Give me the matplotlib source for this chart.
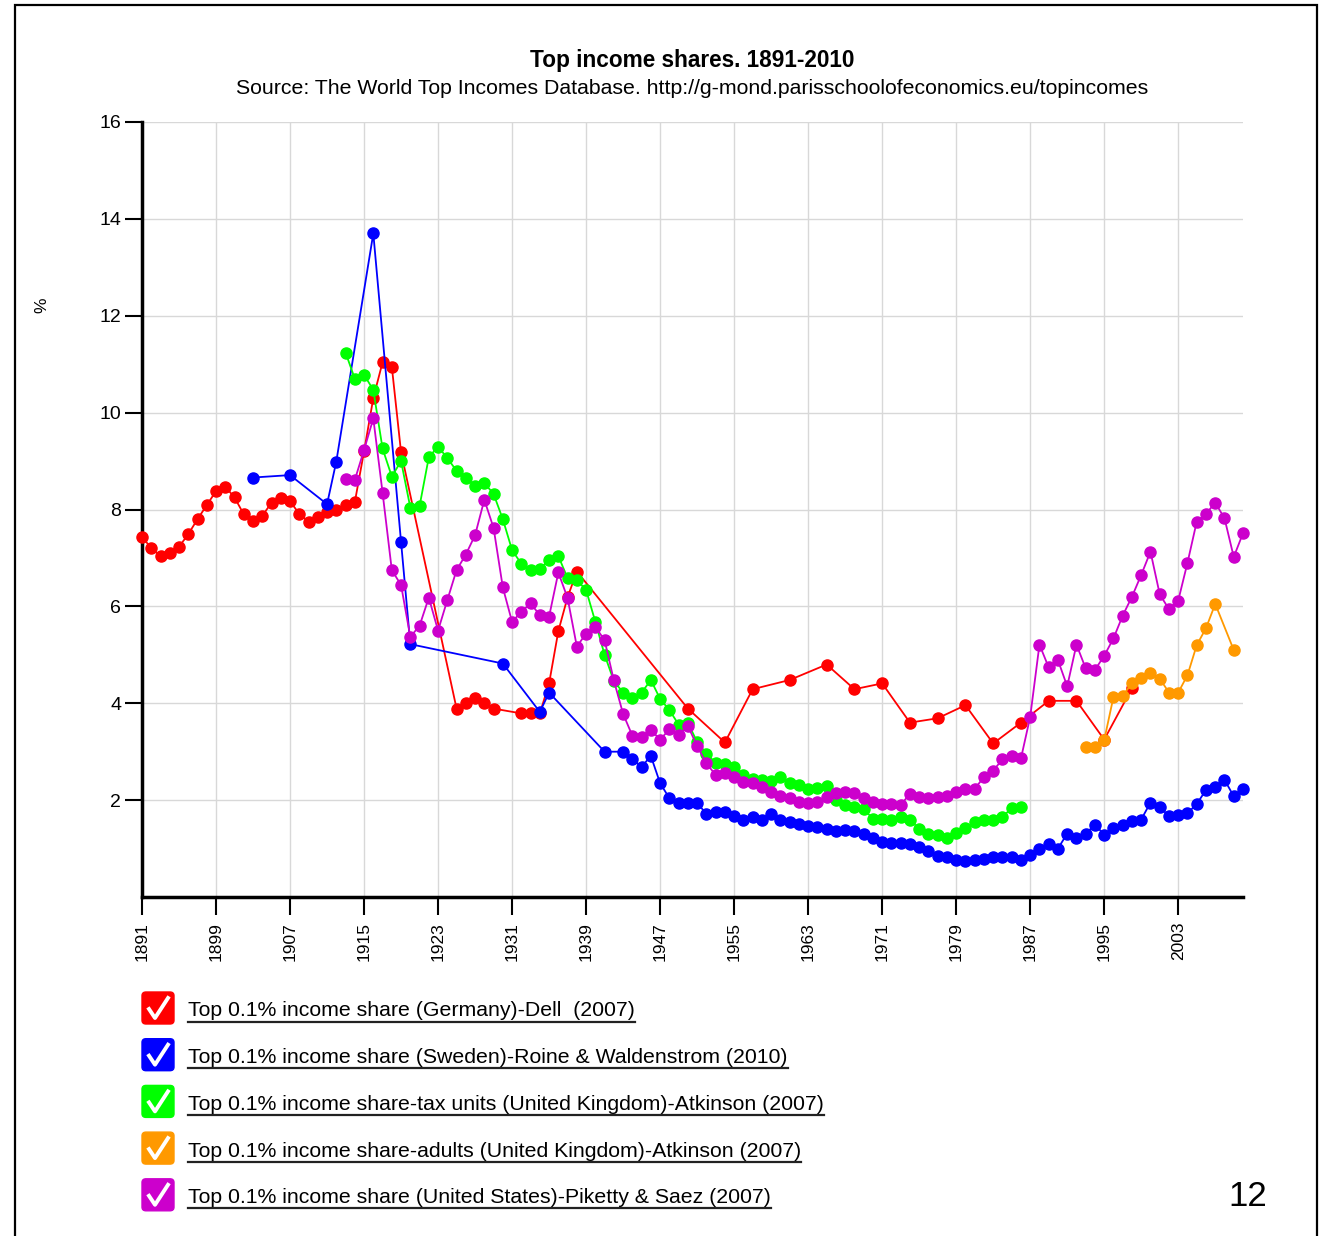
import numpy as np
import matplotlib.pyplot as plt
from matplotlib.patches import Rectangle, FancyBboxPatch
from matplotlib.lines import Line2D

plt.rcParams['font.family'] = ['Liberation Sans', 'DejaVu Sans']

# data
de_years = list(range(1891, 1920)) + [1925, 1926, 1927, 1928, 1929, 1932, 1933, 1934, 1935, 1936, 1937, 1938,
                                      1950, 1954, 1957, 1961, 1965, 1968, 1971, 1974, 1977, 1980, 1983, 1986,
                                      1989, 1992, 1995, 1998]
de_vals = [7.44, 7.2, 7.04, 7.11, 7.23, 7.49, 7.8, 8.09, 8.38, 8.47, 8.25, 7.9, 7.77, 7.87, 8.14, 8.23, 8.17,
           7.91, 7.75, 7.84, 7.94, 8.0, 8.09, 8.15, 9.2, 10.3, 11.04, 10.95, 9.18,
           3.89, 4.0, 4.11, 4.01, 3.89, 3.79, 3.79, 3.79, 4.41, 5.49, 6.19, 6.72,
           3.89, 3.19, 4.29, 4.48, 4.8, 4.29, 4.41, 3.6, 3.69, 3.96, 3.17, 3.6, 4.05, 4.05, 3.25, 4.31]

se_years = [1903, 1907, 1911, 1912, 1916, 1919, 1920, 1930, 1934, 1935, 1941] + list(range(1943, 2011))
se_vals = [8.66, 8.71, 8.11, 8.99, 13.7, 7.33, 5.22, 4.82, 3.82, 4.22, 3.0,
           3.0, 2.84, 2.69, 2.91, 2.35, 2.04, 1.95, 1.95, 1.95, 1.71, 1.76, 1.76, 1.67, 1.6, 1.66, 1.6, 1.71,
           1.6, 1.55, 1.5, 1.46, 1.44, 1.4, 1.37, 1.38, 1.37, 1.3, 1.21, 1.14, 1.12, 1.11, 1.1, 1.03, 0.95,
           0.84, 0.83, 0.77, 0.75, 0.76, 0.78, 0.82, 0.83, 0.82, 0.76, 0.87, 1.0, 1.1, 1.0, 1.31, 1.21, 1.31,
           1.49, 1.29, 1.42, 1.49, 1.57, 1.6, 1.95, 1.86, 1.67, 1.69, 1.73, 1.92, 2.21, 2.28, 2.42, 2.08, 2.22]

uk_tax_years = list(range(1913, 1987))
uk_tax_vals = [11.24, 10.7, 10.78, 10.47, 9.26, 8.68, 9.0, 8.04, 8.07, 9.08, 9.3, 9.06, 8.8, 8.66, 8.48, 8.55,
               8.32, 7.8, 7.16, 6.88, 6.75, 6.77, 6.96, 7.04, 6.58, 6.54, 6.34, 5.68, 5.0, 4.46, 4.22, 4.11,
               4.22, 4.48, 4.09, 3.86, 3.56, 3.6, 3.2, 2.96, 2.77, 2.74, 2.68, 2.52, 2.43, 2.41, 2.4, 2.48,
               2.36, 2.31, 2.24, 2.26, 2.3, 2.0, 1.9, 1.86, 1.81, 1.62, 1.62, 1.59, 1.66, 1.59, 1.41, 1.31,
               1.27, 1.22, 1.32, 1.42, 1.55, 1.59, 1.59, 1.66, 1.83, 1.86]

uk_ad_years = list(range(1993, 2008)) + [2009]
uk_ad_vals = [3.09, 3.09, 3.24, 4.13, 4.15, 4.42, 4.53, 4.63, 4.51, 4.22, 4.22, 4.58, 5.2, 5.55, 6.05, 5.1]

us_years = list(range(1913, 2011))
us_vals = [8.62, 8.61, 9.23, 9.88, 8.35, 6.75, 6.44, 5.37, 5.6, 6.18, 5.5, 6.13, 6.75, 7.07, 7.47, 8.2, 7.62,
           6.39, 5.68, 5.89, 6.06, 5.82, 5.79, 6.7, 6.17, 5.17, 5.44, 5.58, 5.3, 4.47, 3.78, 3.33, 3.31,
           3.45, 3.25, 3.46, 3.34, 3.53, 3.12, 2.76, 2.52, 2.57, 2.48, 2.37, 2.35, 2.28, 2.17, 2.09, 2.04,
           1.97, 1.95, 1.97, 2.07, 2.15, 2.17, 2.15, 2.04, 1.97, 1.93, 1.92, 1.9, 2.13, 2.07, 2.04, 2.06,
           2.09, 2.17, 2.22, 2.24, 2.47, 2.61, 2.84, 2.91, 2.86, 3.72, 5.21, 4.74, 4.89, 4.35, 5.21, 4.72,
           4.69, 4.98, 5.34, 5.81, 6.2, 6.65, 7.13, 6.25, 5.94, 6.12, 6.9, 7.75, 7.91, 8.14, 7.82, 7.02, 7.51]

labels = ['Top 0.1% income share (Germany)-Dell  (2007)',
          'Top 0.1% income share (Sweden)-Roine & Waldenstrom (2010)',
          'Top 0.1% income share-tax units (United Kingdom)-Atkinson (2007)',
          'Top 0.1% income share-adults (United Kingdom)-Atkinson (2007)',
          'Top 0.1% income share (United States)-Piketty & Saez (2007)']
colors = ['#FF0000', '#0000FF', '#00FF00', '#FF9900', '#CC00CC']
series = [(de_years, de_vals), (se_years, se_vals), (uk_tax_years, uk_tax_vals),
          (uk_ad_years, uk_ad_vals), (us_years, us_vals)]

W, H = 1321, 1236
fig = plt.figure(figsize=(W / 100, H / 100), dpi=100)
ax = fig.add_axes([142 / W, 1 - 897 / H, (1243 - 142) / W, (897 - 122) / H])

for i, ((x, y), c) in enumerate(zip(series, colors)):
    ax.plot(x, y, color=c, lw=1.3, marker='o', ms=8, mec=c, mfc=c, zorder=3 + i, clip_on=False)

ax.set_xlim(1891, 2010)
ax.set_ylim(0, 16)
ax.set_xticks(range(1891, 2004, 8))
ax.set_yticks(range(2, 17, 2))
ax.tick_params(axis='x', labelrotation=90, labelsize=12.5, length=13, width=1.5, pad=5)
ax.tick_params(axis='y', labelsize=14, length=12, width=1.5, pad=3)
ax.grid(True, color='#d8d8d8', lw=1)
ax.set_axisbelow(True)
for s in ['top', 'right']:
    ax.spines[s].set_visible(False)
for s in ['left', 'bottom']:
    ax.spines[s].set_linewidth(2.5)

fig.text(692 / W, 1 - 60 / H, 'Top income shares. 1891-2010', ha='center', va='center',
         fontsize=16.3, fontweight='bold')
fig.text(692 / W, 1 - 88 / H,
         'Source: The World Top Incomes Database. http://g-mond.parisschoolofeconomics.eu/topincomes',
         ha='center', va='center', fontsize=15.3)
fig.text(42 / W, 1 - 305 / H, '%', rotation=90, ha='center', va='center', fontsize=12.5)
fig.text(1248 / W, 1 - 1197 / H, '12', ha='center', va='center', fontsize=25)

# outer frame
fig.patches.append(Rectangle((15 / W, -0.01), (1317 - 15) / W, 1 - 5 / H + 0.01, fill=False,
                             lw=1.6, ec='black', transform=fig.transFigure, figure=fig))

# legend with checkboxes and underlined text
renderer = fig.canvas.get_renderer()
for i, (lab, c) in enumerate(zip(labels, colors)):
    yc = 1008 + i * 46.7
    bx, by, bs = 142, yc - 16, 32
    fig.patches.append(FancyBboxPatch((bx / W, 1 - (by + bs) / H), bs / W, bs / H,
                                      boxstyle='round,pad=0,rounding_size=0.003', fc=c, ec=c,
                                      transform=fig.transFigure, figure=fig))
    cx = [bx + 7, bx + 13, bx + 26]
    cy = [by + 17, by + 26, by + 6]
    fig.lines.append(Line2D([v / W for v in cx], [1 - v / H for v in cy], color='white', lw=2.8,
                            transform=fig.transFigure, figure=fig))
    t = fig.text(188 / W, 1 - (yc + 3) / H, lab, ha='left', va='center', fontsize=15.3)
    bb = t.get_window_extent(renderer)
    uy = (bb.y0 - 1) / H
    fig.lines.append(Line2D([bb.x0 / W, bb.x1 / W], [uy, uy], color='#222222', lw=1.6,
                            transform=fig.transFigure, figure=fig))

fig.savefig('out.png', dpi=100)
